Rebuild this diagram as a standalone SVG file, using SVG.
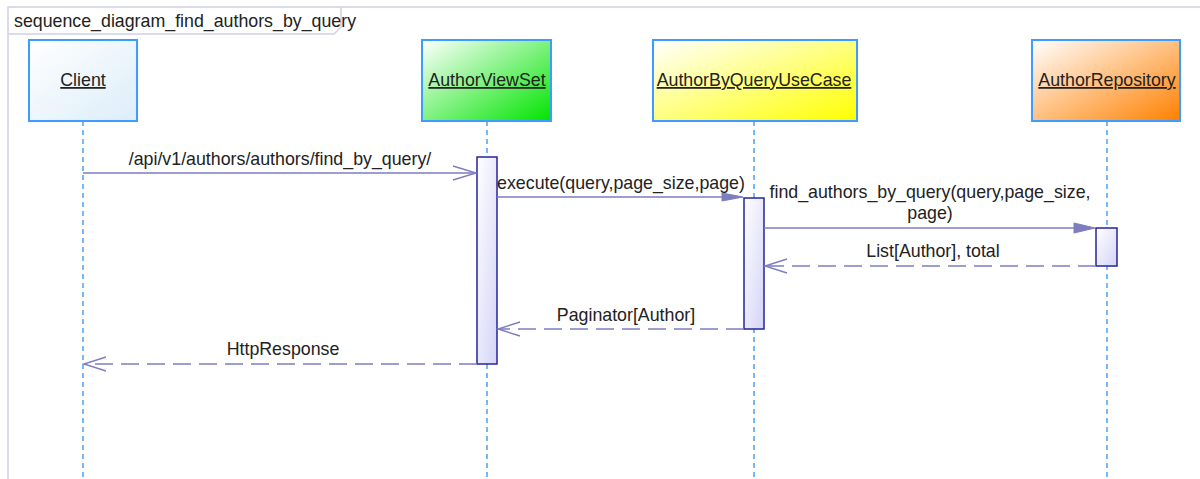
<svg xmlns="http://www.w3.org/2000/svg" width="1200" height="479" viewBox="0 0 1200 479">
<defs>
<linearGradient id="gBlue" x1="0" y1="0" x2="1" y2="1"><stop offset="0" stop-color="#ffffff"/><stop offset="1" stop-color="#dcedf9"/></linearGradient>
<linearGradient id="gGreen" x1="0" y1="0" x2="1" y2="1"><stop offset="0" stop-color="#ffffff"/><stop offset="1" stop-color="#00e400"/></linearGradient>
<linearGradient id="gYellow" x1="0" y1="0" x2="1" y2="1"><stop offset="0" stop-color="#ffffff"/><stop offset="1" stop-color="#ffff00"/></linearGradient>
<linearGradient id="gOrange" x1="0" y1="0" x2="1" y2="1"><stop offset="0" stop-color="#ffffff"/><stop offset="1" stop-color="#ff8000"/></linearGradient>
<linearGradient id="gBar" x1="0" y1="0" x2="1" y2="1"><stop offset="0" stop-color="#ffffff"/><stop offset="1" stop-color="#d4d4f8"/></linearGradient>
<style>
text{font-family:"Liberation Sans",Arial,sans-serif;font-size:17.8px;fill:#222222}
.lbl{text-anchor:middle}
.name{text-anchor:middle;text-decoration:underline}
.box{stroke:#3c9cff;stroke-width:2}
.life{stroke:#1e88f0;stroke-width:1.2;stroke-dasharray:5 4;fill:none}
.bar{fill:url(#gBar);stroke:#25259a;stroke-width:1.5}
.msg{stroke:#7d7dc0;stroke-width:1.4;fill:none}
.ret{stroke:#7d7dc0;stroke-width:1.4;fill:none;stroke-dasharray:18 8}
.open{stroke:#7d7dc0;stroke-width:1.4;fill:none}
.fill{fill:#7d7dc0;stroke:#7d7dc0;stroke-width:1}
.frame{stroke:#d0d0e6;stroke-width:1.5;fill:none}
</style>
</defs>
<rect width="1200" height="479" fill="#ffffff"/>
<g id="frame">
<path class="frame" d="M1200 7 L8 7 L8 479"/>
<path class="frame" d="M8 34 L334 34 L341 27 L341 7"/>
<text x="14" y="27">sequence_diagram_find_authors_by_query</text>
</g>
<g id="lifelines">
<line class="life" x1="83" y1="121" x2="83" y2="479"/>
<line class="life" x1="487" y1="121" x2="487" y2="479"/>
<line class="life" x1="754" y1="121" x2="754" y2="479"/>
<line class="life" x1="1107" y1="121" x2="1107" y2="479"/>
</g>
<g id="client"><rect class="box" x="29" y="40" width="108" height="81" fill="url(#gBlue)"/><text class="name" x="83" y="86">Client</text></g>
<g id="authorviewset"><rect class="box" x="422" y="40" width="129" height="81" fill="url(#gGreen)"/><text class="name" x="487" y="86">AuthorViewSet</text></g>
<g id="authorbyqueryusecase"><rect class="box" x="653" y="40" width="204" height="81" fill="url(#gYellow)"/><text class="name" x="754" y="86">AuthorByQueryUseCase</text></g>
<g id="authorrepository"><rect class="box" x="1032" y="40" width="148" height="81" fill="url(#gOrange)"/><text class="name" x="1107" y="86">AuthorRepository</text></g>
<g id="activations">
<rect class="bar" x="477" y="157" width="20" height="207"/>
<rect class="bar" x="744" y="198" width="20" height="131"/>
<rect class="bar" x="1096" y="228" width="21" height="38"/>
</g>
<g id="connectors">
<line class="msg" x1="83" y1="173" x2="476" y2="173"/>
<path class="open" d="M453 166 L476 173 L453 180"/>
<text class="lbl" x="280" y="165">/api/v1/authors/authors/find_by_query/</text>
<line class="msg" x1="497" y1="197" x2="730" y2="197"/>
<path class="fill" d="M722 193 L743 197 L722 201 Z"/>
<text class="lbl" x="621" y="189">execute(query,page_size,page)</text>
<line class="msg" x1="764" y1="228" x2="1080" y2="228"/>
<path class="fill" d="M1074 223 L1095 228 L1074 233 Z"/>
<text class="lbl" x="930" y="198">find_authors_by_query(query,page_size,</text>
<text class="lbl" x="930" y="219">page)</text>
<line class="ret" x1="1096" y1="266" x2="765" y2="266"/>
<path class="open" d="M787 259 L765 266 L787 273"/>
<text class="lbl" x="933" y="257">List[Author], total</text>
<line class="ret" x1="744" y1="329" x2="498" y2="329"/>
<path class="open" d="M520 322 L498 329 L520 336"/>
<text class="lbl" x="626" y="321">Paginator[Author]</text>
<line class="ret" x1="477" y1="364" x2="84" y2="364"/>
<path class="open" d="M106 357 L84 364 L106 371"/>
<text class="lbl" x="283" y="355">HttpResponse</text>
</g>
</svg>
